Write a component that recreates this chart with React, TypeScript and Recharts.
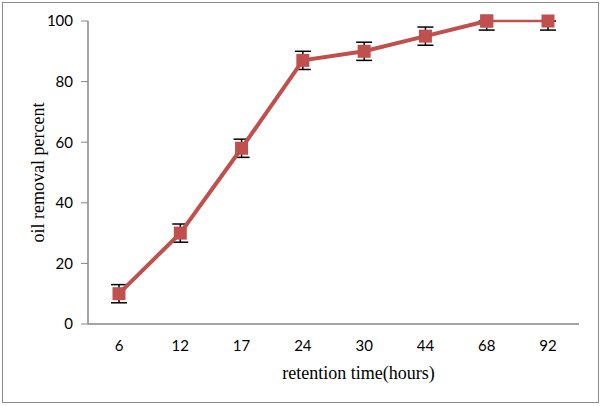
import React from "react";
import { LineChart, Line, XAxis, YAxis, ErrorBar, Label } from "recharts";

document.body.style.margin = "0";

const hours = ["6", "12", "17", "24", "30", "44", "68", "92"];
const removal = [10, 30, 58, 87, 90, 95, 100, 100];
const errLow = [3, 3, 3, 3, 3, 3, 3, 3];
const errHigh = [3, 3, 3, 3, 3, 3, 0, 0];
const yTicks = [0, 20, 40, 60, 80, 100];

const RED = "#C0504D";
const AXIS = "#868686";
const tickFont = { fontFamily: "Lato, 'Open Sans', sans-serif", fontSize: 15, fill: "#000" };
const titleFont = "'Liberation Serif', 'Times New Roman', serif";

// first seven points drawn thick, the last segment (68 -> 92) thin
const data = hours.map((h, i) => ({
  hour: h,
  main: i < hours.length - 1 ? removal[i] : null,
  tail: i >= hours.length - 2 ? removal[i] : null,
  errMain: i < hours.length - 1 ? [errLow[i], errHigh[i]] : null,
  errTail: i === hours.length - 1 ? [errLow[i], errHigh[i]] : null,
}));

const Square = (props: any) => {
  const { cx, cy, key } = props;
  if (cx == null || cy == null || props.value == null) return <g key={key} />;
  return <rect key={key} x={cx - 6.5} y={cy - 6.5} width={13} height={13} fill={RED} />;
};

export default function App() {
  return (
    <div style={{ position: "relative", width: 600, height: 406, background: "#fff" }}>
      <div
        style={{
          position: "absolute",
          left: 2,
          top: 2,
          width: 595,
          height: 399,
          border: "1px solid #8c8c8c",
        }}
      />
      <LineChart
        width={600}
        height={406}
        data={data}
        margin={{ top: 21, right: 21, left: 8, bottom: 22 }}
        style={{ position: "absolute", left: 0, top: 0 }}
      >
        <XAxis
          dataKey="hour"
          tickLine={false}
          axisLine={{ stroke: AXIS, strokeWidth: 1.5 }}
          tick={tickFont}
          tickMargin={10}
          height={60}
          padding={{ left: 31, right: 31 }}
        >
          <Label
            value="retention time(hours)"
            position="insideBottom"
            offset={5}
            dx={25}
            style={{ fontFamily: titleFont, fontSize: 18, fill: "#000" }}
          />
        </XAxis>
        <YAxis
          domain={[0, 100]}
          ticks={yTicks}
          width={80}
          tickLine={{ stroke: AXIS }}
          tickSize={7}
          axisLine={{ stroke: AXIS, strokeWidth: 1.5 }}
          tick={tickFont}
          tickMargin={8}
        >
          <Label
            value="oil removal percent"
            angle={-90}
            position="insideLeft"
            offset={30}
            style={{ fontFamily: titleFont, fontSize: 18, fill: "#000", textAnchor: "middle" }}
          />
        </YAxis>
        <Line
          dataKey="main"
          stroke={RED}
          strokeWidth={4}
          dot={<Square />}
          activeDot={false}
          isAnimationActive={false}
          connectNulls={false}
        >
          <ErrorBar dataKey="errMain" width={8} stroke="#000" strokeWidth={1.5} />
        </Line>
        <Line
          dataKey="tail"
          stroke={RED}
          strokeWidth={2.5}
          dot={<Square />}
          activeDot={false}
          isAnimationActive={false}
        >
          <ErrorBar dataKey="errTail" width={8} stroke="#000" strokeWidth={1.5} />
        </Line>
      </LineChart>
    </div>
  );
}
